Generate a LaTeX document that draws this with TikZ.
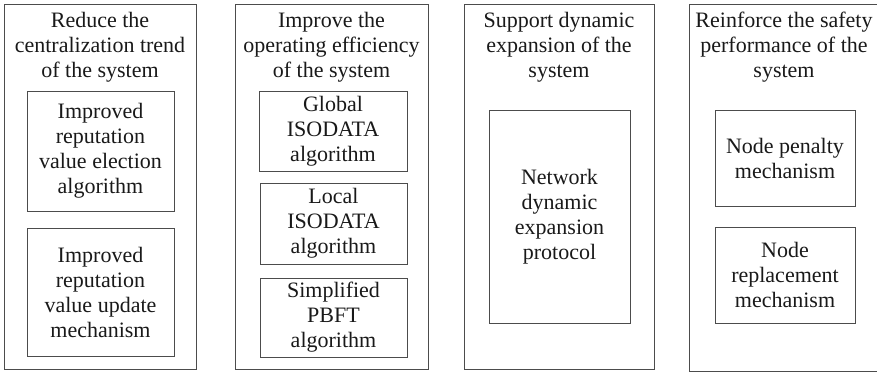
\documentclass[tikz,border=0pt]{standalone}
\usepackage{fontspec}
\setmainfont{Liberation Serif}
\setsansfont{Liberation Serif}
\begin{document}
\begin{tikzpicture}[x=1pt,y=-1pt,
  frame/.style={draw=black!70, line width=1pt, inner sep=0pt, outer sep=0pt},
  panel/.style={frame},
  inbox/.style={frame, align=center, text=black!90,
    font=\rmfamily\fontsize{22}{25}\selectfont},
  heading/.style={align=center, inner sep=0pt, text=black!90,
    font=\rmfamily\fontsize{22}{25}\selectfont}]
\useasboundingbox (0,0) rectangle (877,373);

% Panel 1: centralization
\node[panel, minimum width=192pt, minimum height=365pt] (p1) at (100,186.5) {};
\node[heading] (h1) at (100,47) {Reduce the\\centralization trend\\of the system};
\node[inbox, minimum width=147pt, minimum height=120pt] (a1) at (100.5,151)
  {Improved\\reputation\\value election\\algorithm};
\node[inbox, minimum width=147pt, minimum height=128pt] (a2) at (100.5,292)
  {Improved\\reputation\\value update\\mechanism};

% Panel 2: operating efficiency
\node[panel, minimum width=193pt, minimum height=365pt] (p2) at (331.5,186.5) {};
\node[heading] (h2) at (331.5,47) {Improve the\\operating efficiency\\of the system};
\node[inbox, minimum width=148pt, minimum height=80pt] (b1) at (333,131)
  {Global\\ISODATA\\algorithm};
\node[inbox, minimum width=147pt, minimum height=81pt] (b2) at (333.5,223.5)
  {Local\\ISODATA\\algorithm};
\node[inbox, minimum width=147pt, minimum height=79pt] (b3) at (333.5,317.5)
  {Simplified\\PBFT\\algorithm};

% Panel 3: dynamic expansion
\node[panel, minimum width=190pt, minimum height=365pt] (p3) at (559,186.5) {};
\node[heading] (h3) at (559,47) {Support dynamic\\expansion of the\\system};
\node[inbox, minimum width=141pt, minimum height=213pt] (c1) at (559.5,216.5)
  {Network\\dynamic\\expansion\\protocol};

% Panel 4: safety performance (right edge runs past the page)
\node[panel, minimum width=194pt, minimum height=367pt] (p4) at (786,187.5) {};
\node[heading] (h4) at (784,47) {Reinforce the safety\\performance of the\\system};
\node[inbox, minimum width=140pt, minimum height=96pt] (d1) at (785,158)
  {Node penalty\\mechanism};
\node[inbox, minimum width=140pt, minimum height=96pt] (d2) at (785,275)
  {Node\\replacement\\mechanism};
\end{tikzpicture}
\end{document}
